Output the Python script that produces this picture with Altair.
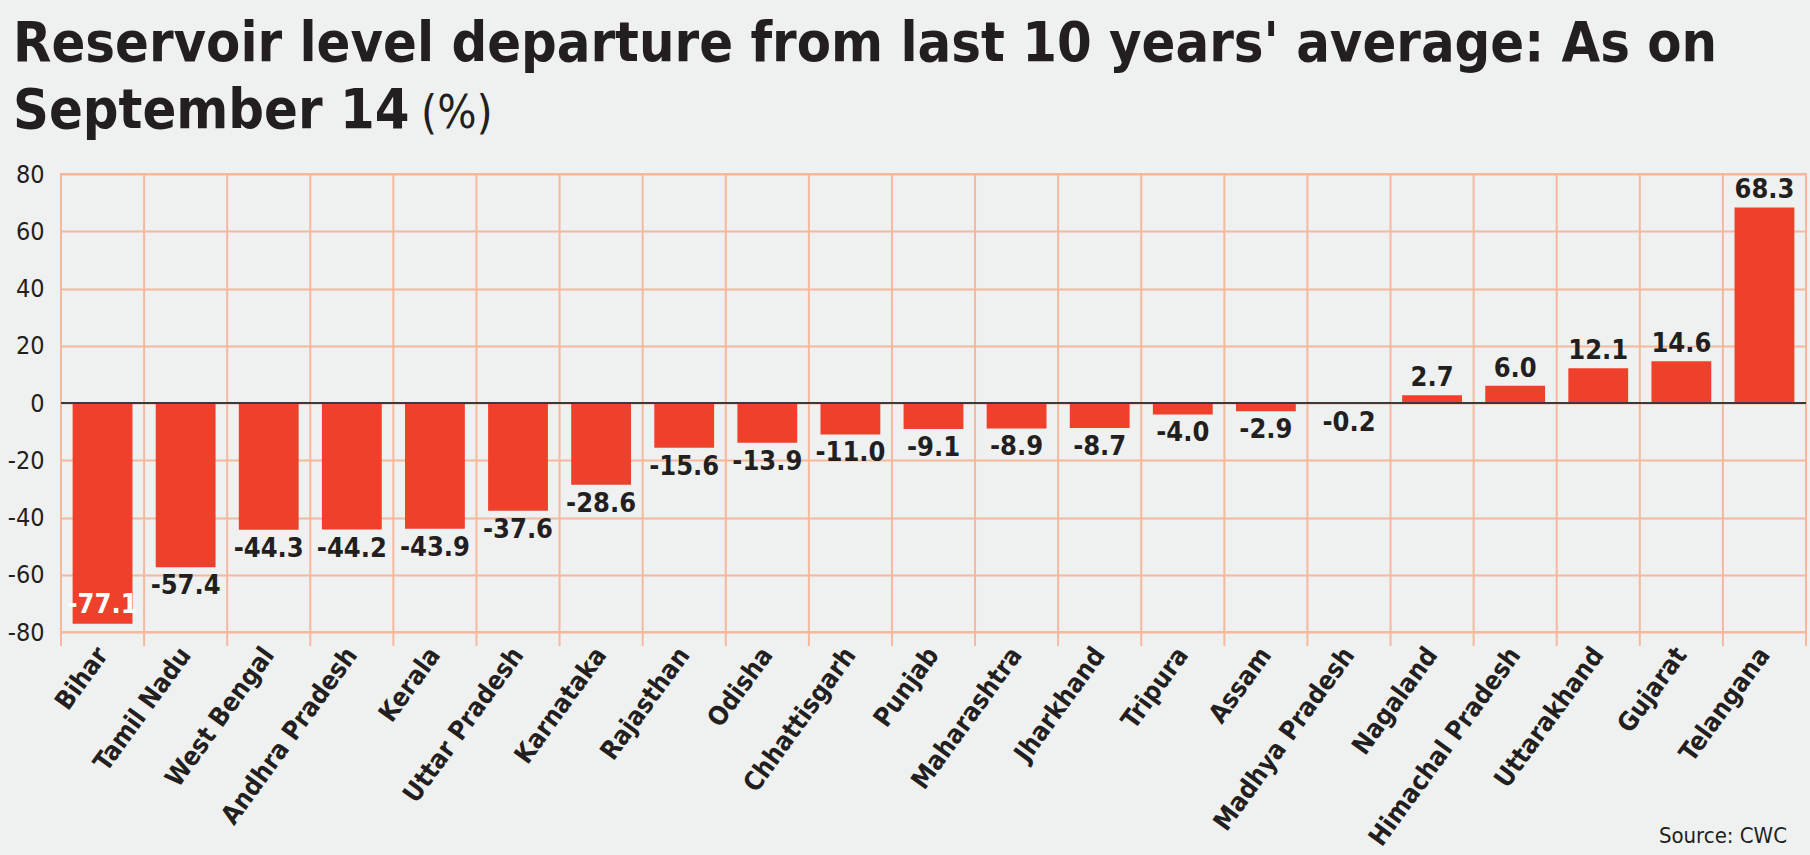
import altair as alt
import pandas as pd

# Reservoir level departure from the 10-year average, by state (%)
states = [
    "Bihar", "Tamil Nadu", "West Bengal", "Andhra Pradesh", "Kerala",
    "Uttar Pradesh", "Karnataka", "Rajasthan", "Odisha", "Chhattisgarh",
    "Punjab", "Maharashtra", "Jharkhand", "Tripura", "Assam",
    "Madhya Pradesh", "Nagaland", "Himachal Pradesh", "Uttarakhand",
    "Gujarat", "Telangana",
]
departure = [
    -77.1, -57.4, -44.3, -44.2, -43.9,
    -37.6, -28.6, -15.6, -13.9, -11.0,
    -9.1, -8.9, -8.7, -4.0, -2.9,
    -0.2, 2.7, 6.0, 12.1,
    14.6, 68.3,
]
y_ticks = [-80, -60, -40, -20, 0, 20, 40, 60, 80]

title_line1 = "Reservoir level departure from last 10 years' average: As on"
title_line2 = "September 14"
title_unit = "(%)"
source_note = "Source: CWC"

df = pd.DataFrame({"state": states, "value": departure})
df["label"] = [f"{v:.1f}" for v in departure]

W, H = 1745, 458
TICK = 14
BG = "#eff1f0"
RED = "#ee402a"
GRID = "#f6b89c"
INK = "#231f20"
FONT = "'DejaVu Sans Condensed', Roboto, sans-serif"

x_scale = alt.Scale(paddingInner=0, paddingOuter=0)

x_enc = alt.X(
    "state:N",
    sort=states,
    scale=x_scale,
    axis=alt.Axis(
        title=None,
        grid=False,
        ticks=False,
        domain=False,
        labelAngle=-54,
        labelAlign="right",
        labelBaseline="middle",
        labelPadding=TICK + 4,
        labelFont=FONT,
        labelFontWeight="bold",
        labelFontSize=26,
        labelColor=INK,
        labelOverlap=False,
        labelLimit=0,
    ),
)
y_enc = alt.Y(
    "value:Q",
    scale=alt.Scale(domain=[-80, 80], nice=False),
    axis=alt.Axis(
        title=None,
        values=y_ticks,
        grid=True,
        gridColor=GRID,
        gridWidth=2,
        ticks=False,
        domain=False,
        labelPadding=17,
        labelFont=FONT,
        labelFontSize=25,
        labelColor=INK,
        labelExpr="datum.value + ''",
    ),
)

base = alt.Chart(df)

# vertical separators between states, running past the bottom edge as ticks
separators = base.mark_rule(color=GRID, strokeWidth=2).encode(
    x=alt.X("state:N", sort=states, bandPosition=0),
    y=alt.value(0),
    y2=alt.value(H + TICK),
)
right_tick = alt.Chart(pd.DataFrame({"z": [0]})).mark_rule(
    color=GRID, strokeWidth=2
).encode(x=alt.value(W), y=alt.value(H), y2=alt.value(H + TICK))

bars = base.mark_bar(color=RED, width=alt.RelativeBandSize(0.72)).encode(
    x=x_enc, y=y_enc
)

zero = alt.Chart(pd.DataFrame({"z": [0]})).mark_rule(
    color="#3a3a3a", strokeWidth=2
).encode(y="z:Q")

label_style = dict(font=FONT, fontWeight="bold", fontSize=27, align="center")

neg_labels = base.transform_filter(
    "datum.value < 0 && datum.value > -70"
).mark_text(baseline="top", dy=6, color=INK, **label_style).encode(
    x=alt.X("state:N", sort=states), y="value:Q", text="label:N"
)
deep_labels = base.transform_filter("datum.value <= -70").mark_text(
    baseline="alphabetic", dy=-11, color="white", **label_style
).encode(x=alt.X("state:N", sort=states), y="value:Q", text="label:N")
pos_labels = base.transform_filter("datum.value > 0").mark_text(
    baseline="alphabetic", dy=-9, color=INK, **label_style
).encode(x=alt.X("state:N", sort=states), y="value:Q", text="label:N")

one = pd.DataFrame({"t": [0]})
t1 = alt.Chart(one).mark_text(
    text=title_line1, font=FONT, fontWeight="bold", fontSize=55.5,
    align="left", baseline="alphabetic", color=INK,
).encode(x=alt.value(-48), y=alt.value(-113))
t2 = alt.Chart(one).mark_text(
    text=title_line2, font=FONT, fontWeight="bold", fontSize=55.5,
    align="left", baseline="alphabetic", color=INK,
).encode(x=alt.value(-48), y=alt.value(-46))
t3 = alt.Chart(one).mark_text(
    text=title_unit, font=FONT, fontWeight="normal", fontSize=46,
    align="left", baseline="alphabetic", color=INK,
).encode(x=alt.value(360), y=alt.value(-46))
src = alt.Chart(one).mark_text(
    text=source_note, font=FONT, fontSize=22,
    align="right", baseline="alphabetic", color=INK,
).encode(x=alt.value(1726), y=alt.value(669))

chart = (
    alt.layer(separators, right_tick, bars, zero, neg_labels, deep_labels,
              pos_labels, t1, t2, t3, src)
    .properties(
        width=W,
        height=H,
        background=BG,
        autosize=alt.AutoSizeParams(type="none"),
        padding={"left": 61, "top": 174, "right": 4, "bottom": 223},
    )
    .configure_view(stroke=GRID, strokeWidth=2)
)

chart.save("out.html", embed_options={"renderer": "svg", "actions": False})
